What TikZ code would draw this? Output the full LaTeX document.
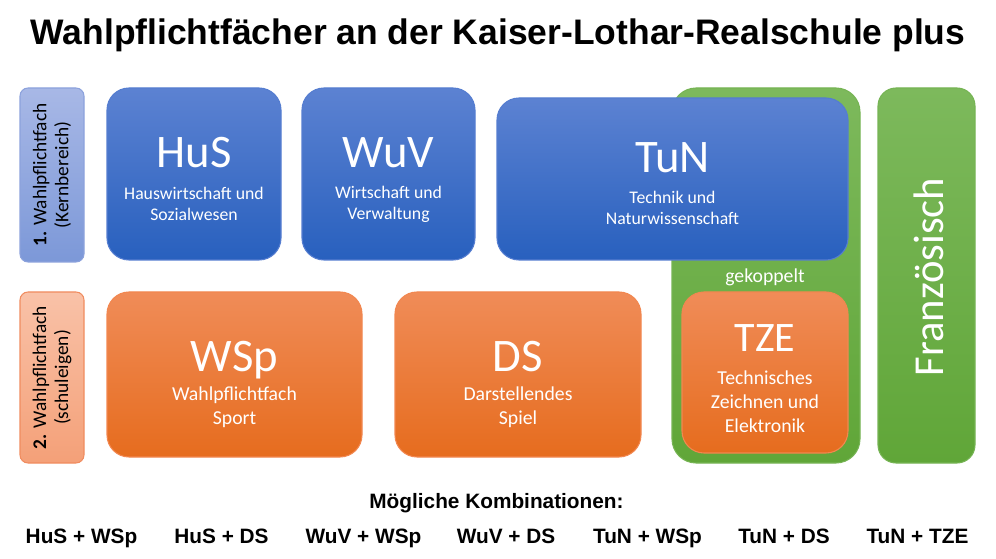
\documentclass[tikz,border=0pt]{standalone}
\usepackage{fontspec}
\setmainfont{Carlito}
\newfontfamily\headfont{Liberation Sans}
\usepackage{tikz}
\usetikzlibrary{positioning}
\usetikzlibrary{fit,calc}

\definecolor{BlueTop}{RGB}{92,130,210}
\definecolor{BlueBot}{RGB}{40,96,190}
\definecolor{BlueLine}{RGB}{85,125,208}
\definecolor{OrangeTop}{RGB}{240,140,88}
\definecolor{OrangeBot}{RGB}{230,108,30}
\definecolor{OrangeLine}{RGB}{242,135,80}
\definecolor{GreenTop}{RGB}{125,185,92}
\definecolor{GreenBot}{RGB}{96,166,56}
\definecolor{GreenLine}{RGB}{118,180,84}
\definecolor{LBlueTop}{RGB}{168,184,230}
\definecolor{LBlueBot}{RGB}{124,152,216}
\definecolor{LBlueLine}{RGB}{140,162,220}
\definecolor{LOrangeTop}{RGB}{249,194,168}
\definecolor{LOrangeBot}{RGB}{244,160,120}
\definecolor{LOrangeLine}{RGB}{240,140,95}

\tikzset{
	subjbox/.style={inner sep=0pt, line width=0.8pt, rounded corners=16.5pt},
	bluebox/.style={subjbox, draw=BlueLine, top color=BlueTop, bottom color=BlueBot},
	orangebox/.style={subjbox, draw=OrangeLine, top color=OrangeTop, bottom color=OrangeBot},
	greenbox/.style={subjbox, draw=GreenLine, top color=GreenTop, bottom color=GreenBot, rounded corners=18pt},
	levelbox/.style={inner sep=0pt, line width=0.8pt, rounded corners=6pt},
	abbr/.style={text=white, anchor=base, inner sep=0pt, font=\fontsize{35}{42}\selectfont},
	subtxt/.style={text=white, align=center, inner sep=0pt, font=\fontsize{13.3}{15.75}\selectfont},
	subtxtbig/.style={text=white, align=center, inner sep=0pt, font=\fontsize{14.8}{18}\selectfont},
	combi/.style={anchor=base, inner sep=0pt, font=\headfont\bfseries\fontsize{15.6}{18}\selectfont},
}

\begin{document}
\begin{tikzpicture}[x=0.75pt, y=-0.75pt]
	
	% ------------------------------------------------
	% Ensure the dimensions of graphic are appropriate
	\useasboundingbox (0,0) rectangle (996,559);
	
	% ------------------------------------------------
	% Title
	\node[anchor=base, inner sep=0pt, font=\headfont\bfseries\fontsize{26.6}{32}\selectfont] (Title) at (498,45) {Wahlpflichtfächer an der Kaiser-Lothar-Realschule plus};
	
	% ----------------
	% Level labels
	\node[levelbox, draw=LBlueLine, top color=LBlueTop, bottom color=LBlueBot, fit={(20,88) (84,262)}] (LevelA) {};
	\node[levelbox, draw=LOrangeLine, top color=LOrangeTop, bottom color=LOrangeBot, fit={(20,292) (84,463)}] (LevelB) {};
	\node[rotate=90, align=center, inner sep=0pt, font=\fontsize{14.5}{16.5}\selectfont] (LevelAtxt) at (LevelA.center) {\textbf{1.} Wahlpflichtfach\\(Kernbereich)};
	\node[rotate=90, align=center, inner sep=0pt, font=\fontsize{14.5}{16.5}\selectfont] (LevelBtxt) at (LevelB.center) {\textbf{2.} Wahlpflichtfach\\(schuleigen)};
	
	% ----------------
	% Coupled block and French
	\node[greenbox, fit={(672,88) (860,463)}] (Coupled) {};
	\node[greenbox, rounded corners=13.5pt, fit={(878,88) (975,463)}] (French) {};
	\node[text=white, rotate=90, anchor=base, inner sep=0pt, font=\fontsize{32}{38}\selectfont] (Frenchtxt) at (943,277) {Französisch};
	
	% ----------------
	% Core subjects
	\node[bluebox, fit={(107,88) (281,260)}] (HuS) {};
	\node[bluebox, fit={(302,88) (475,260)}] (WuV) {};
	\node[bluebox, fit={(497,98) (848,260)}] (TuN) {};
	
	\node[abbr] (HuSabbr) at (HuS.north |- 0,168) {HuS};
	\node[subtxt] (HuSsub) at (HuS.north |- 0,204) {Hauswirtschaft und\\Sozialwesen};
	\node[abbr] (WuVabbr) at (WuV.north |- 0,168) {WuV};
	\node[subtxt] (WuVsub) at (WuV.north |- 0,204) {Wirtschaft und\\Verwaltung};
	\node[abbr] (TuNabbr) at (TuN.north |- 0,173) {TuN};
	\node[subtxt] (TuNsub) at (TuN.north |- 0,208) {Technik und\\Naturwissenschaft};
	
	% ----------------
	% School electives
	\node[orangebox, fit={(107,292) (362,457)}] (WSp) {};
	\node[orangebox, fit={(395,292) (641,457)}] (DS) {};
	\node[orangebox, fit={(682,292) (848,453)}] (TZE) {};
	
	\node[abbr] (WSpabbr) at (WSp.north |- 0,372) {WSp};
	\node[subtxtbig] (WSpsub) at (WSp.north |- 0,407) {Wahlpflichtfach\\Sport};
	\node[abbr] (DSabbr) at (DS.north |- 0,372) {DS};
	\node[subtxtbig] (DSsub) at (DS.north |- 0,407) {Darstellendes\\Spiel};
	\node[abbr, font=\fontsize{31.5}{38}\selectfont] (TZEabbr) at (TZE.north |- 0,352) {TZE};
	\node[subtxtbig] (TZEsub) at (TZE.north |- 0,402) {Technisches\\Zeichnen und\\Elektronik};
	
	\node[text=white, inner sep=0pt, font=\fontsize{14.8}{18}\selectfont] (Couplingtxt) at (765,277) {gekoppelt};
	
	% ------------------------------------------------
	% Combinations
	\node[combi] (Combis) at (496.5,508) {Mögliche Kombinationen:};
	\node[combi] (ComA) at (81.5,543) {HuS + WSp};
	\node[combi] (ComB) at (221.5,543) {HuS + DS};
	\node[combi] (ComC) at (363.5,543) {WuV + WSp};
	\node[combi] (ComD) at (506,543) {WuV + DS};
	\node[combi] (ComE) at (647.5,543) {TuN + WSp};
	\node[combi] (ComF) at (784,543) {TuN + DS};
	\node[combi] (ComG) at (917.5,543) {TuN + TZE};
	
\end{tikzpicture}
\end{document}
